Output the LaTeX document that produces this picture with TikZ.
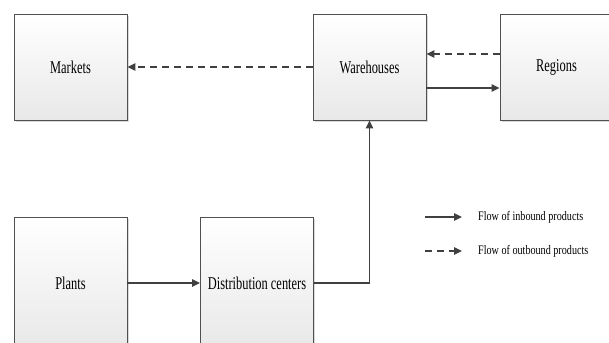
\documentclass[tikz,border=0pt]{standalone}
\usepackage{fontspec}
\setmainfont{Liberation Serif}[FakeStretch=0.69]
\newfontfamily\legendfont{Liberation Serif}[FakeStretch=0.78]
\usetikzlibrary{arrows.meta,shadows}

\definecolor{edgegray}{HTML}{505050}
\definecolor{flowgray}{HTML}{404040}

\tikzset{
	unitbox/.style={draw=edgegray, line width=0.9pt, top color=white, bottom color=black!9,
		minimum width=113pt, minimum height=106pt, inner sep=0pt,
		font=\fontsize{18}{20}\selectfont,
		drop shadow={shadow xshift=1.6pt, shadow yshift=-1.6pt, opacity=0.25, fill=black!60}},
	tallbox/.style={unitbox, minimum height=132pt},
	inbound/.style={draw=flowgray, line width=1.3pt, -{Triangle[length=8pt, width=7.5pt]}},
	outbound/.style={inbound, dash pattern=on 7pt off 5pt},
	legendtext/.style={anchor=west, inner sep=0pt, font=\legendfont\fontsize{13}{15}\selectfont}
}

\begin{document}
\begin{tikzpicture}[x=1pt, y=-1pt]
		%%%%% START %%%%%
		\useasboundingbox (0, 0) rectangle (609, 342);
		
		\node[unitbox] (markets) at (70.5, 67) {Markets};
		\node[unitbox] (warehouses) at (369.5, 67) {Warehouses};
		\node[unitbox] (regions) at (556.5, 67) {Regions};
		
		\node[tallbox] (plants) at (70.5, 283) {Plants};
		\node[tallbox] (centers) at (257, 283) {Distribution centers};
		
		\draw[outbound] (warehouses.west) -- (markets.east);
		\draw[outbound] ([yshift=13pt]regions.west) -- ([yshift=13pt]warehouses.east);
		\draw[inbound] ([yshift=-21pt]warehouses.east) -- ([yshift=-21pt]regions.west);
		
		\draw[inbound] (plants.east) -- (centers.west);
		\draw[inbound] (centers.east) -| (warehouses.south);
		
		% legend
		\node[legendtext] (inLabel) at (478, 217) {Flow of inbound products};
		\node[legendtext] (outLabel) at (478, 251) {Flow of outbound products};
		\coordinate (inStart) at (425, 217);
		\coordinate (outStart) at (425, 251);
		\draw[inbound] (inStart) -- ([xshift=-16pt]inLabel.west);
		\draw[outbound] (outStart) -- ([xshift=-16pt]outLabel.west);
		
		%%%%% END %%%%%
	\end{tikzpicture}
\end{document}
